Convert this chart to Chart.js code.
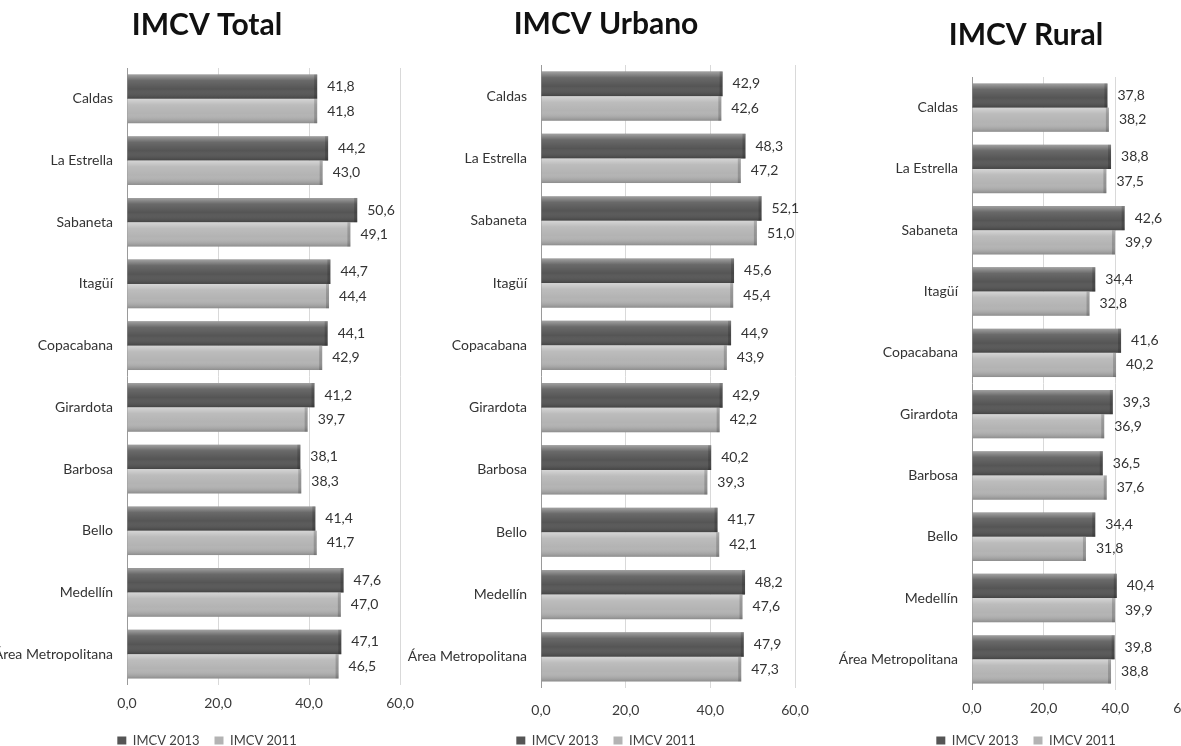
<!DOCTYPE html>
<html><head><meta charset="utf-8">
<script src="https://cdn.jsdelivr.net/npm/chart.js@4.4.0/dist/chart.umd.min.js"></script>
<style>
html,body{margin:0;padding:0;width:1181px;height:746px;overflow:hidden;background:#fff;position:relative}
.p{position:absolute;top:0}
</style></head><body>
<div class="p" id="w1"><canvas id="c1"></canvas></div>
<div class="p" id="w2"><canvas id="c2"></canvas></div>
<div class="p" id="w3"><canvas id="c3"></canvas></div>
<script>
const categories = ['Caldas','La Estrella','Sabaneta','Itagüí','Copacabana','Girardota','Barbosa','Bello','Medellín','Área Metropolitana'];
const seriesNames = ['IMCV 2013','IMCV 2011'];
const titles = ['IMCV Total','IMCV Urbano','IMCV Rural'];
const total2013 = [41.8,44.2,50.6,44.7,44.1,41.2,38.1,41.4,47.6,47.1];
const total2011 = [41.8,43.0,49.1,44.4,42.9,39.7,38.3,41.7,47.0,46.5];
const urbano2013 = [42.9,48.3,52.1,45.6,44.9,42.9,40.2,41.7,48.2,47.9];
const urbano2011 = [42.6,47.2,51.0,45.4,43.9,42.2,39.3,42.1,47.6,47.3];
const rural2013 = [37.8,38.8,42.6,34.4,41.6,39.3,36.5,34.4,40.4,39.8];
const rural2011 = [38.2,37.5,39.9,32.8,40.2,36.9,37.6,31.8,39.9,38.8];
const xMin = 0, xMax = 60, xStep = 20;

const fmt = v => Number(v).toFixed(1).replace('.', ',');
const FONT = 'Lato, "Open Sans", sans-serif';

const unclip = {
  id: 'unclip',
  afterLayout(chart) {
    const x = chart.scales.x, y = chart.scales.y;
    x.bottom += 20; x.height += 20;
    y.width += y.left; y.left = 0;
  }
};

const shineAndLabels = {
  id: 'shineAndLabels',
  afterDatasetsDraw(chart) {
    const ctx = chart.ctx;
    chart.data.datasets.forEach((ds, i) => {
      const meta = chart.getDatasetMeta(i);
      meta.data.forEach((el) => {
        const p = el.getProps(['x','y','base','height'], true);
        const top = p.y - p.height / 2, h = p.height;
        const left = Math.min(p.base, p.x), w = Math.abs(p.x - p.base);
        ctx.save();
        const g = ctx.createLinearGradient(0, top, 0, top + h);
        g.addColorStop(0, 'rgba(255,255,255,0.45)');
        g.addColorStop(0.25, 'rgba(255,255,255,0.12)');
        g.addColorStop(0.6, 'rgba(255,255,255,0)');
        g.addColorStop(1, 'rgba(0,0,0,0.22)');
        ctx.fillStyle = g;
        ctx.fillRect(left, top, w, h);
        ctx.fillStyle = 'rgba(0,0,0,0.18)';
        ctx.fillRect(left + w - 3, top, 3, h);
        ctx.restore();
      });
    });
    ctx.save();
    ctx.font = '14px ' + FONT;
    ctx.fillStyle = '#333';
    ctx.textAlign = 'left';
    ctx.textBaseline = 'middle';
    chart.data.datasets.forEach((ds, i) => {
      const meta = chart.getDatasetMeta(i);
      meta.data.forEach((el, j) => {
        const p = el.getProps(['x','y'], true);
        ctx.fillText(fmt(ds.data[j]), p.x + 10, p.y);
      });
    });
    ctx.restore();
  }
};

const panels = [
  {id:'c1', wrap:'w1', left:-20, width:450, pl:34, pr:30, yW:113, tTop:7, tBot:25, xH:34, xPad:10, title:titles[0], d13:total2013, d11:total2011},
  {id:'c2', wrap:'w2', left:400, width:425, pl:17, pr:30, yW:124, tTop:6, tBot:23, xH:31, xPad:14, title:titles[1], d13:urbano2013, d11:urbano2011},
  {id:'c3', wrap:'w3', left:830, width:387, pl:35, pr:30, yW:107, tTop:17, tBot:24, xH:29, xPad:10, title:titles[2], d13:rural2013, d11:rural2011}
];
const H = 757;

panels.forEach(P => {
  const w = document.getElementById(P.wrap);
  w.style.left = P.left + 'px';
  w.style.width = P.width + 'px';
  w.style.height = H + 'px';
  new Chart(document.getElementById(P.id), {
    type: 'bar',
    data: {
      labels: categories,
      datasets: [
        {label: seriesNames[0], data: P.d13, backgroundColor: '#555555', borderWidth: 0},
        {label: seriesNames[1], data: P.d11, backgroundColor: '#b3b3b3', borderWidth: 0}
      ]
    },
    options: {
      indexAxis: 'y',
      responsive: true,
      maintainAspectRatio: false,
      animation: false,
      categoryPercentage: 0.79,
      barPercentage: 1,
      layout: {padding: {left: P.pl, right: P.pr, top: 0, bottom: 0}},
      scales: {
        x: {
          min: xMin, max: xMax,
          ticks: {stepSize: xStep, callback: v => fmt(v), font: {family: FONT, size: 14}, color: '#3a3a3a', padding: P.xPad},
          grid: {drawTicks: false, color: c => (c.tick && c.tick.value === 0) ? '#9a9a9a' : '#d9d9d9', lineWidth: 1},
          border: {display: false},
          afterFit: s => { s.height = P.xH; }
        },
        y: {
          ticks: {font: {family: FONT, size: 14}, color: '#333', padding: 14},
          grid: {display: false, drawTicks: false},
          border: {display: false},
          afterFit: s => { s.width = P.yW; }
        }
      },
      plugins: {
        title: {display: true, text: P.title, color: '#111', font: {family: FONT, size: 30, weight: 'bold'}, padding: {top: P.tTop, bottom: P.tBot}},
        legend: {position: 'bottom', labels: {boxWidth: 9, boxHeight: 8, padding: 15, color: '#404040', font: {family: FONT, size: 13}}},
        tooltip: {enabled: false}
      }
    },
    plugins: [unclip, shineAndLabels]
  });
});
</script>
</body></html>
